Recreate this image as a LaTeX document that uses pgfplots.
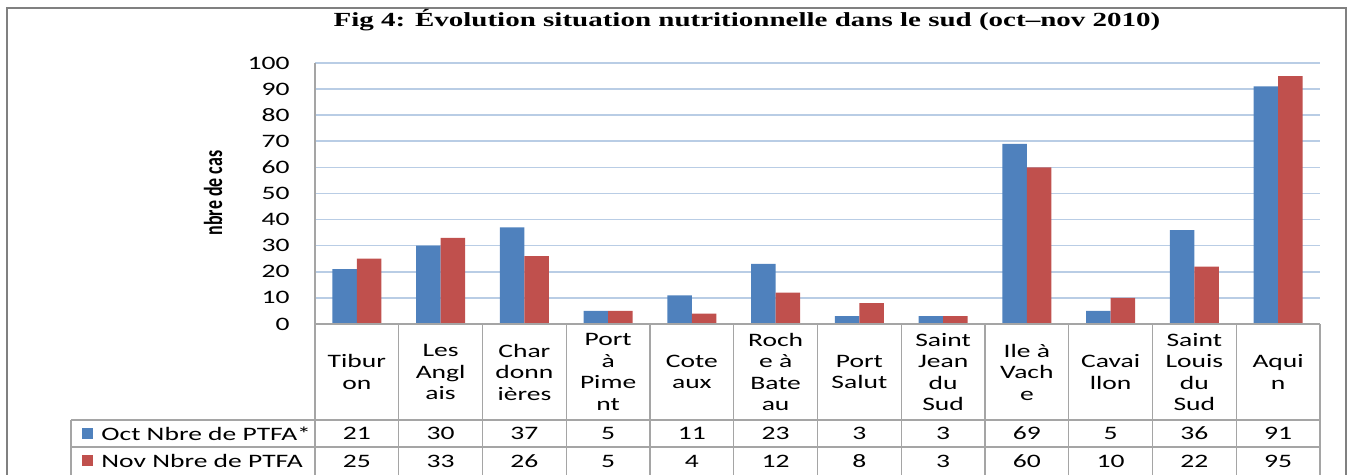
\documentclass[border=0pt]{standalone}
\usepackage{fontspec}
\setmainfont[FakeStretch=1.45]{Carlito}
\newfontfamily\titlefont[FakeStretch=1.45]{Liberation Serif}
\newfontfamily\ylabfont[FakeStretch=0.69]{Carlito}
\usepackage{pgfplots}
\usepackage{pgfplotstable}
\pgfplotsset{compat=1.18}
\definecolor{cblue}{RGB}{79,129,189}
\definecolor{cred}{RGB}{192,80,77}
\definecolor{cgrid}{RGB}{185,205,229}
\definecolor{cline}{RGB}{165,165,165}
\definecolor{cframe}{RGB}{128,128,128}

\pgfplotstableread{
x oct nov
0 21 25
1 30 33
2 37 26
3 5 5
4 11 4
5 23 12
6 3 8
7 3 3
8 69 60
9 5 10
10 36 22
11 91 95
}\datatable

\begin{document}
\begin{tikzpicture}
\useasboundingbox (0,0) rectangle (676.5pt,237.5pt);
\begin{axis}[
 at={(157.5pt,75.5pt)}, anchor=south west,
 scale only axis, width=502.5pt, height=130.5pt,
 xmin=-0.5, xmax=11.5, ymin=0, ymax=100,
 ytick={0,10,...,100},
 xtick={0,...,11},
 xticklabels={{Tibur\\on},{Les\\Angl\\ais},{Char\\donn\\ières},{Port\\à\\Pime\\nt},{Cote\\aux},{Roch\\e à\\Bate\\au},{Port\\Salut},{Saint\\Jean\\du\\Sud},{Ile à\\Vach\\e},{Cavai\\llon},{Saint\\Louis\\du\\Sud},{Aqui\\n}},
 axis line style={draw=none},
 major tick length=0pt,
 ymajorgrids, grid style={cgrid, line width=0.8pt},
 clip=false,
 /pgf/number format/assume math mode=true,
 tick label style={font=\fontsize{9.5}{10.75}\selectfont},
 yticklabel style={inner sep=0pt, anchor=east, xshift=-12.5pt},
 xticklabel style={anchor=center, yshift=-24pt, align=center, inner sep=0pt},
]
\addplot[ybar, bar width=12.25pt, bar shift=-6.125pt, fill=cblue, draw=none] table[x=x,y=oct]{\datatable};
\addplot[ybar, bar width=12.25pt, bar shift=6.125pt, fill=cred, draw=none] table[x=x,y=nov]{\datatable};
\addplot[draw=none, mark=none, nodes near coords, point meta=explicit,
  every node near coord/.style={anchor=center, inner sep=0pt, font=\fontsize{9.5}{10.75}\selectfont}]
  table[x=x, y expr=-41.95, meta=oct]{\datatable};
\addplot[draw=none, mark=none, nodes near coords, point meta=explicit,
  every node near coord/.style={anchor=center, inner sep=0pt, font=\fontsize{9.5}{10.75}\selectfont}]
  table[x=x, y expr=-52.5, meta=nov]{\datatable};
\end{axis}
\begin{scope}[x=0.5pt, y=-0.5pt, shift={(0,237.5pt)}]
 \draw[cframe, line width=1pt] (7,478) -- (7,8) -- (1346,8) -- (1346,478);
 \draw[cline, line width=0.7pt] (315,63) -- (315,478);
 \draw[cline, line width=0.7pt] (315,324) -- (1320,324);
 \foreach \k in {1,...,12} \draw[cline, line width=0.7pt] (315+83.75*\k,324) -- (315+83.75*\k,478);
 \draw[cline, line width=0.7pt] (71,420) -- (1320,420);
 \draw[cline, line width=0.7pt] (71,447) -- (1320,447);
 \draw[cline, line width=0.7pt] (71,420) -- (71,478);
 \fill[cblue] (82,428) rectangle (93,439);
 \node[anchor=west, inner sep=0pt, font=\fontsize{9.5}{10.75}\selectfont] at (101,433.5) {Oct Nbre de PTFA*};
 \fill[cred] (82,455) rectangle (93,466);
 \node[anchor=west, inner sep=0pt, font=\fontsize{9.5}{10.75}\selectfont] at (101,461) {Nov Nbre de PTFA};
 \node[font=\titlefont\bfseries\fontsize{10}{12}\selectfont] at (747,20) {Fig 4: Évolution situation nutritionnelle dans le sud (oct–nov 2010)};
 \node[rotate=90, font=\ylabfont\bfseries\fontsize{13}{14}\selectfont] at (213,193) {nbre de cas};
\end{scope}
\end{tikzpicture}
\end{document}
